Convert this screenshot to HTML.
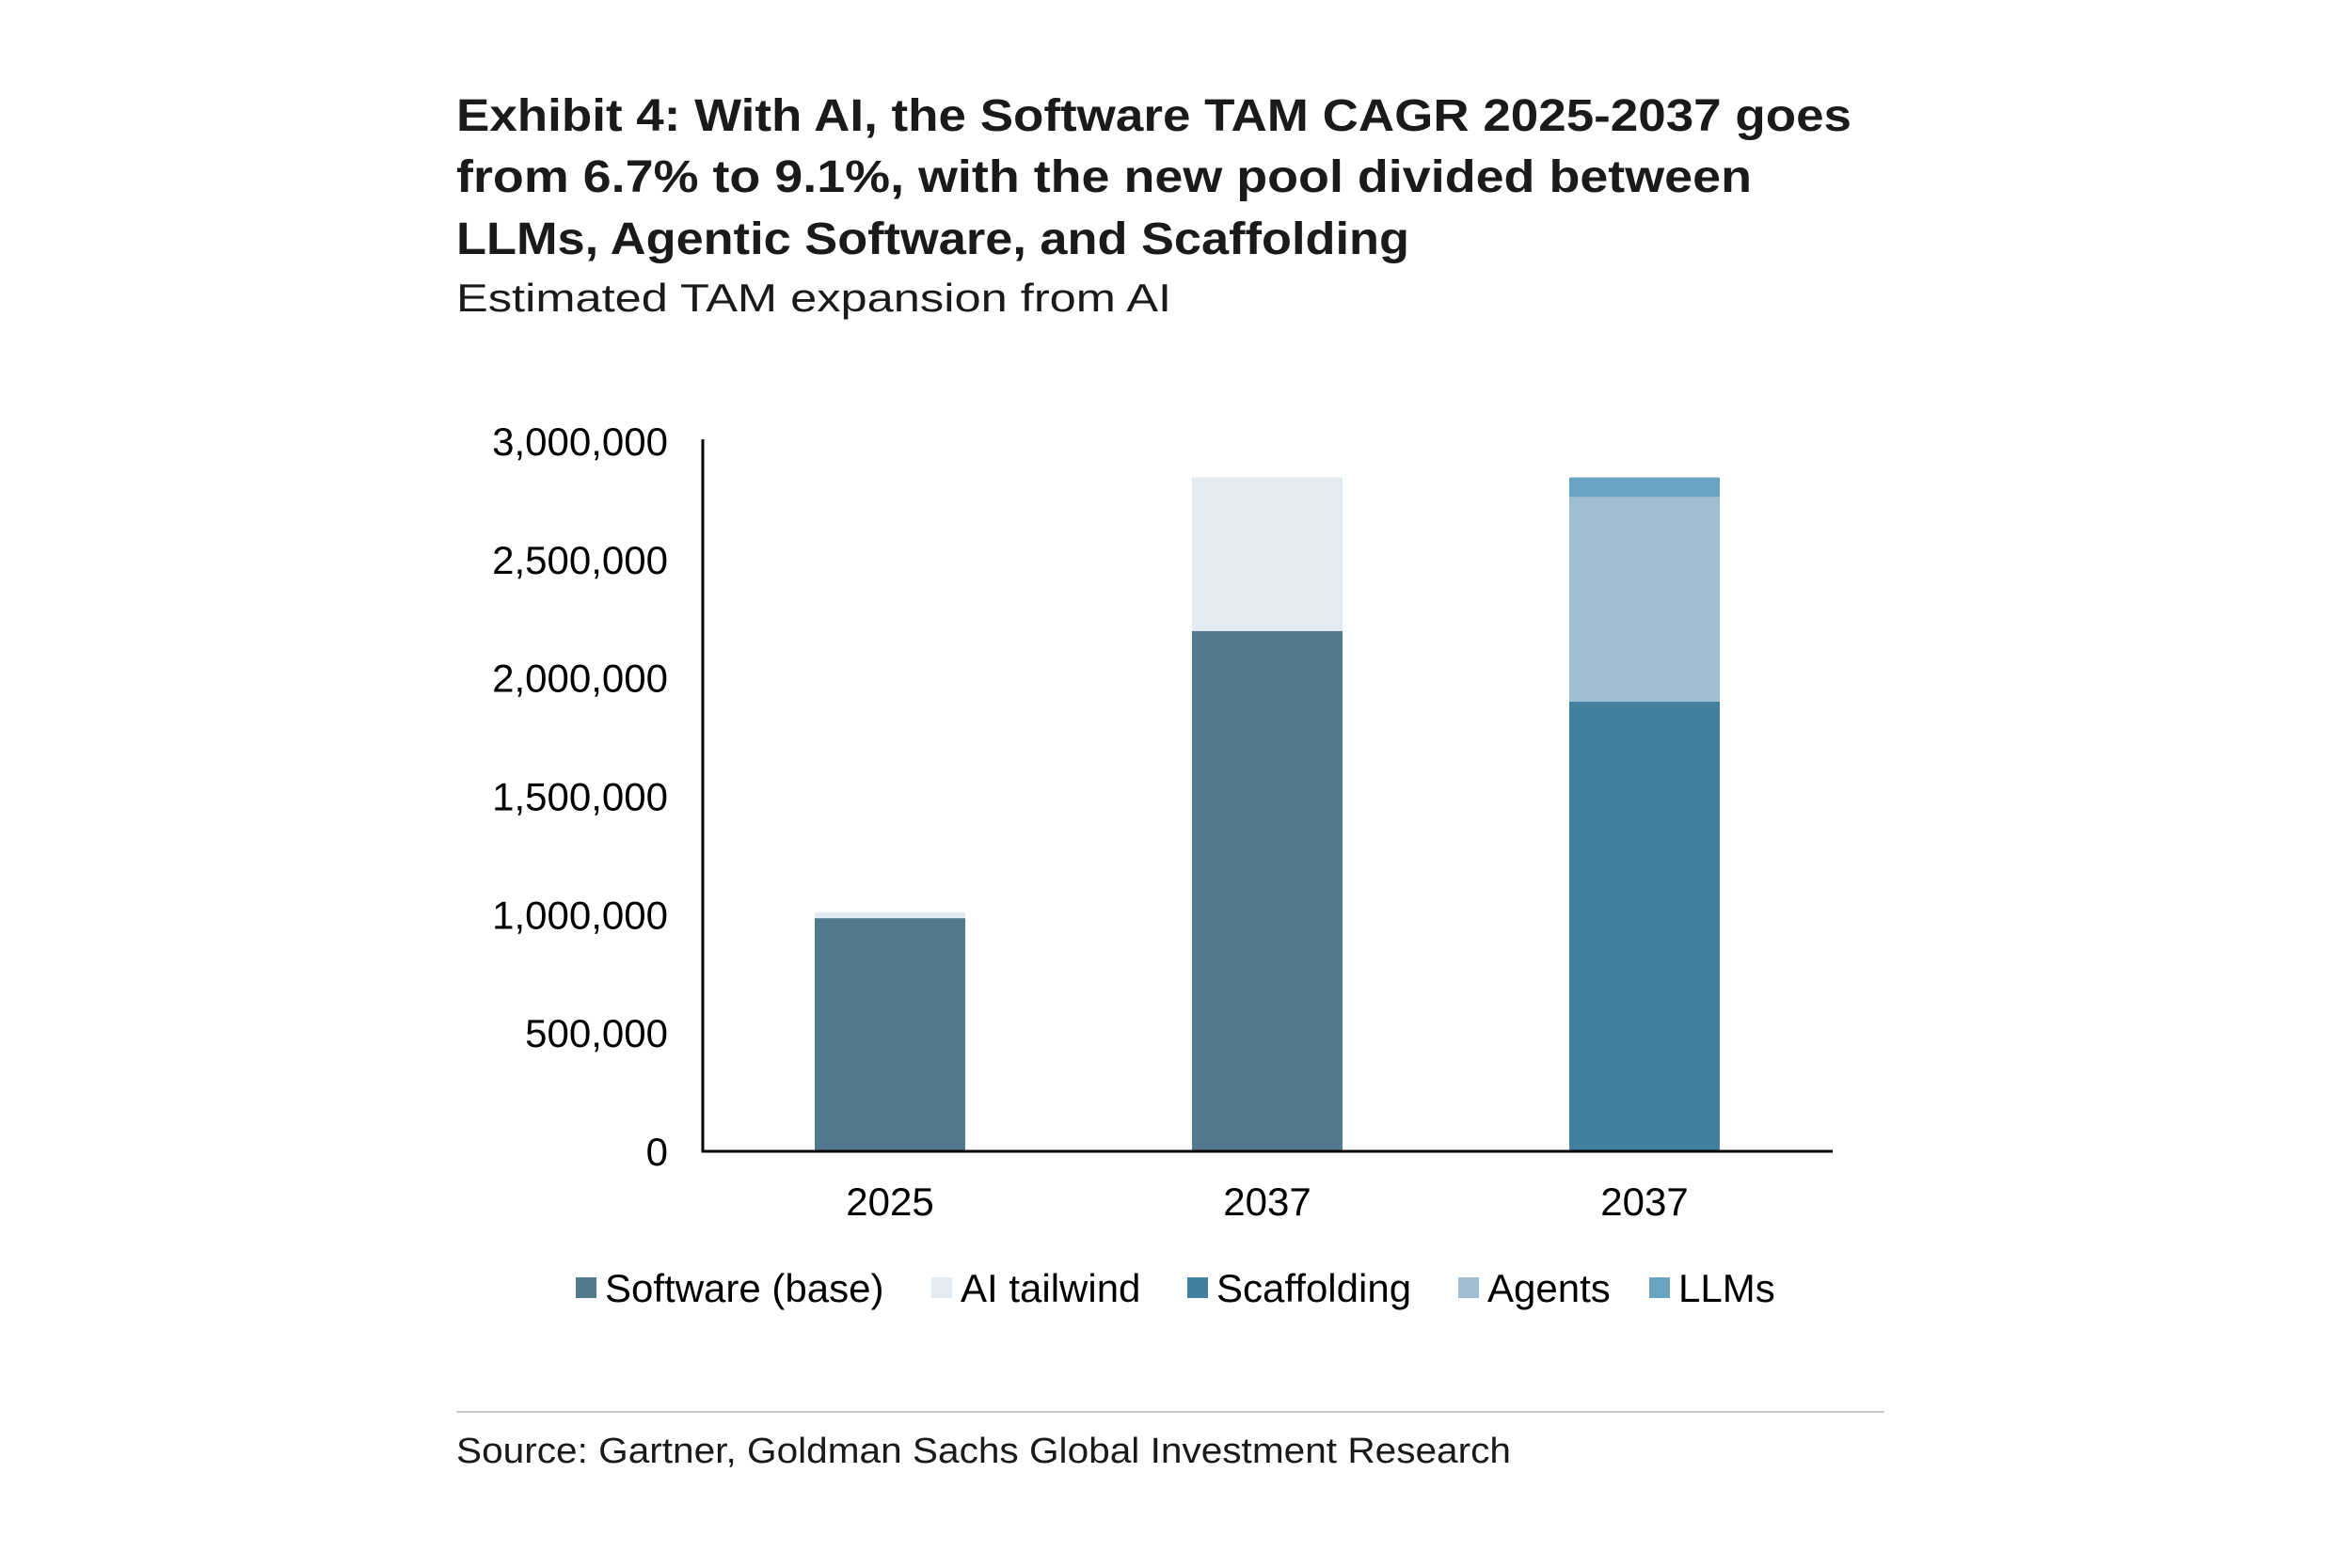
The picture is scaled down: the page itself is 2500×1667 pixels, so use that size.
<!DOCTYPE html>
<html><head><meta charset="utf-8"><style>
html,body{margin:0;padding:0;background:#fff;}
svg{display:block;font-family:"Liberation Sans",sans-serif;}
</style></head><body>
<svg id="chart" width="2500" height="1667" viewBox="0 0 2500 1667">
<text x="485" y="139" font-size="48" font-weight="bold" fill="#1a1a1a" textLength="1483" lengthAdjust="spacingAndGlyphs">Exhibit 4: With AI, the Software TAM CAGR 2025-2037 goes</text>
<text x="485" y="204" font-size="48" font-weight="bold" fill="#1a1a1a" textLength="1377" lengthAdjust="spacingAndGlyphs">from 6.7% to 9.1%, with the new pool divided between</text>
<text x="485" y="270" font-size="48" font-weight="bold" fill="#1a1a1a" textLength="1013" lengthAdjust="spacingAndGlyphs">LLMs, Agentic Software, and Scaffolding</text>
<text x="485" y="331" font-size="42" fill="#1a1a1a" textLength="760" lengthAdjust="spacingAndGlyphs">Estimated TAM expansion from AI</text>
<g id="plot"></g>
<line x1="485" y1="1501" x2="2003" y2="1501" stroke="#c8c8c8" stroke-width="2"/>
<text x="485" y="1555" font-size="38" fill="#1a1a1a" textLength="1121" lengthAdjust="spacingAndGlyphs">Source: Gartner, Goldman Sachs Global Investment Research</text>
</svg>
<script>
const categories = ["2025", "2037", "2037"];
const softwareBase = [985000, 2198000, 0];
const aiTailwind = [25000, 649000, 0];
const scaffolding = [0, 0, 1900000];
const agents = [0, 0, 864000];
const llms = [0, 0, 83000];
const tickValues = [0, 500000, 1000000, 1500000, 2000000, 2500000, 3000000];
const tickLabels = ["0", "500,000", "1,000,000", "1,500,000", "2,000,000", "2,500,000", "3,000,000"];
const seriesNames = ["Software (base)", "AI tailwind", "Scaffolding", "Agents", "LLMs"];

const NS = "http://www.w3.org/2000/svg";
const g = document.getElementById('plot');
const x0 = 747, x1 = 1948, yBase = 1224, yTop = 469, maxV = 3000000;
function y(v){ return yBase - (v / maxV) * (yBase - yTop); }
const band = 401, barW = 160;
function xc(i){ return 946 + i * band; }
function mk(tag, attrs){ const e = document.createElementNS(NS, tag); for (const k in attrs) e.setAttribute(k, attrs[k]); g.appendChild(e); return e; }

const series = [softwareBase, aiTailwind, scaffolding, agents, llms];
const colors = ["#517a8f", "#e1ebf1", "#43809e", "#9fbed1", "#68a3c2"];
const keys = ["software-base", "ai-tailwind", "scaffolding", "agents", "llms"];

categories.forEach((c, i) => {
  let cum = 0;
  series.forEach((s, k) => {
    const v = s[i];
    if (v > 0) {
      const r = mk('rect', {x: xc(i) - barW/2, y: y(cum + v), width: barW, height: y(cum) - y(cum + v), fill: colors[k]});
      
      
      cum += v;
    }
  });
  const t = mk('text', {x: xc(i), y: 1292, 'font-size': 42, 'text-anchor': 'middle', fill: '#000'});
  t.textContent = c;
  
  
});

tickValues.forEach((v, i) => {
  const t = mk('text', {x: 710, y: y(v) + 15, 'font-size': 42, 'text-anchor': 'end', fill: '#000'});
  t.textContent = tickLabels[i];
  
  
});

const ya = mk('line', {x1: x0, y1: yTop - 2, x2: x0, y2: yBase + 1, stroke: '#000', 'stroke-width': 3});


const xa = mk('line', {x1: x0 - 1, y1: yBase, x2: x1, y2: yBase, stroke: '#000', 'stroke-width': 3});



const legX = [612, 990, 1262, 1550, 1753];
seriesNames.forEach((n, k) => {
  const r = mk('rect', {x: legX[k], y: 1358, width: 22, height: 22, fill: colors[k]});
  
  
  const t = mk('text', {x: legX[k] + 31, y: 1384, 'font-size': 42, fill: '#000'});
  t.textContent = n;
  
  
});
</script>
</body></html>
